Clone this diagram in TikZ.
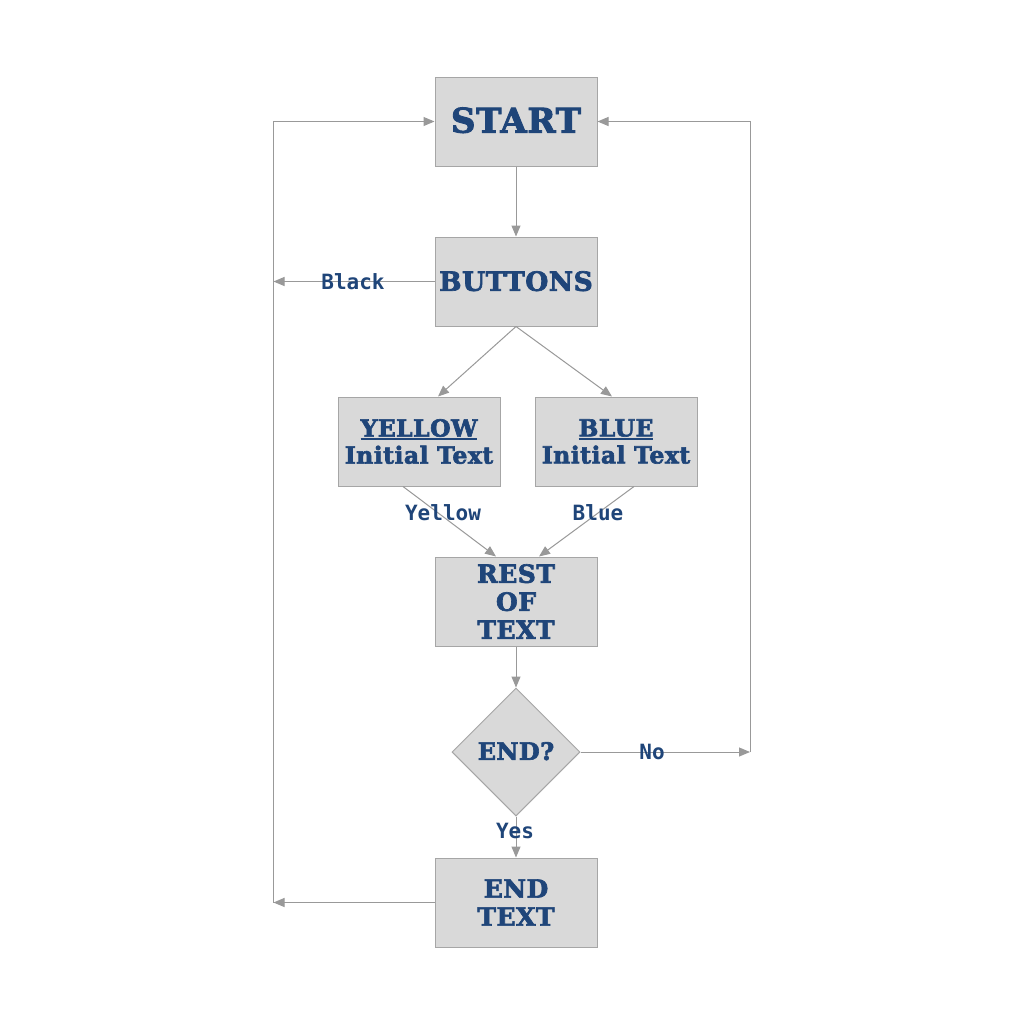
\documentclass[tikz,border=0pt]{standalone}
\usepackage{fontspec}
\setmainfont{DejaVu Serif}[BoldFeatures={FakeBold=2.6,LetterSpace=2}]
\newfontfamily\labfont{DejaVu Sans Mono}
\usetikzlibrary{shapes.geometric,arrows.meta}
\definecolor{txt}{HTML}{1F4579}
\definecolor{boxfill}{HTML}{D9D9D9}
\definecolor{boxline}{HTML}{A6A6A6}
\definecolor{lineg}{HTML}{999999}
\newcommand\thickul[1]{\setbox0\hbox{#1}\rlap{\rule[-3.5bp]{\wd0}{1.8bp}}\box0}
\begin{document}
\begin{tikzpicture}[x=1bp,y=-1bp,
 box/.style={draw=boxline, fill=boxfill, line width=1bp, minimum width=162bp, minimum height=89bp, inner sep=0pt, text=txt, font=\bfseries, align=center},
 dec/.style={diamond, draw=boxline, fill=boxfill, line width=1bp, minimum width=128bp, minimum height=128bp, inner sep=0pt, text=txt, font=\bfseries\fontsize{24bp}{28bp}\selectfont},
 arr/.style={draw=lineg, line width=1bp, -{Triangle[length=11bp,width=9bp]}},
 ln/.style={draw=lineg, line width=1bp},
 lab/.style={text=txt, font=\labfont\bfseries\fontsize{21bp}{22bp}\selectfont, inner sep=0pt, anchor=base}]
\useasboundingbox[fill=white] (0,0) rectangle (1024,1024);

\node[box, font=\bfseries\fontsize{34bp}{40bp}\selectfont] (start) at (516,121.5) {\raisebox{3bp}{START}};
\node[box, font=\bfseries\fontsize{26.5bp}{32bp}\selectfont] (buttons) at (516,281.5) {\raisebox{1bp}{BUTTONS}};
\node[box, font=\bfseries\fontsize{23.5bp}{27bp}\selectfont] (yellow) at (419,441.5) {\thickul{YELLOW}\\Initial Text};
\node[box, font=\bfseries\fontsize{23.5bp}{27bp}\selectfont] (blue) at (616,441.5) {\thickul{BLUE}\\Initial Text};
\node[box, font=\bfseries\fontsize{25bp}{28bp}\selectfont] (rest) at (516,601.5) {REST\\OF\\TEXT};
\node[dec] (end) at (516,752) {\raisebox{2bp}{END?}};
\node[box, font=\bfseries\fontsize{25bp}{28bp}\selectfont] (endtext) at (516,902.5) {END\\TEXT};

\coordinate (L1) at (273.5,121.5);
\coordinate (L2) at (273.5,281.5);
\coordinate (L3) at (273.5,902.5);
\coordinate (R1) at (750,121.5);
\coordinate (R2) at (750,752);

\draw[arr] (start) -- (buttons);
\draw[arr] (buttons.south) -- (yellow.north -| 438,0);
\draw[arr] (buttons.south) -- (blue.north -| 612,0);
\draw[arr] (yellow.south -| 403,0) -- (rest.north -| 496,0);
\draw[arr] (blue.south -| 634,0) -- (rest.north -| 539,0);
\draw[arr] (rest) -- (end);
\draw[arr] (end) -- (endtext);
\draw[arr] (end.east) -- (R2);
\draw[arr] (R2) -- (R1) -- (start.east);
\draw[arr] (buttons.west) -- (L2);
\draw[arr] (endtext.west) -- (L3);
\draw[arr] (L3) -- (L1) -- (start.west);

\node[lab] (lblack) at (353,289) {Black};
\node[lab] (lyellow) at (443,520) {Yellow};
\node[lab] (lblue) at (598,520) {Blue};
\node[lab] (lno) at (652,759) {No};
\node[lab] (lyes) at (515,838) {Yes};
\end{tikzpicture}
\end{document}
